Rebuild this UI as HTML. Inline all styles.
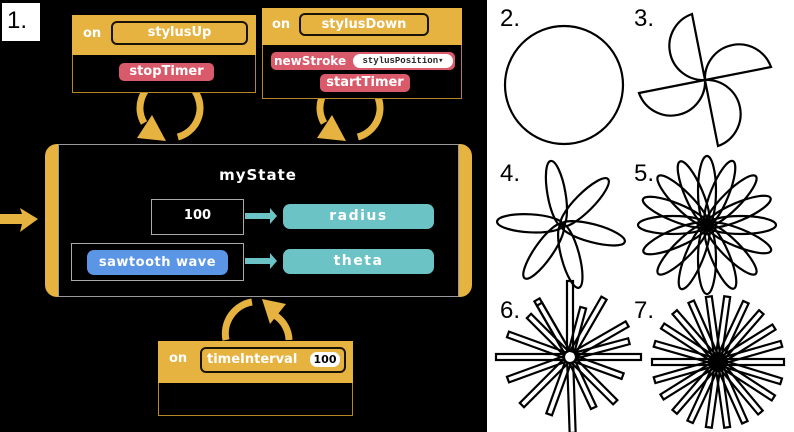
<!DOCTYPE html>
<html><head><meta charset="utf-8"><style>
body{margin:0;width:794px;height:432px;background:#fff;position:relative;overflow:hidden;font-family:"DejaVu Sans","Liberation Sans",sans-serif}
.a{position:absolute;box-sizing:border-box}
.hdr{background:#e6b240}
.pill{border:2px solid #1a1408;border-radius:6px;color:#fff;font-weight:bold;text-align:center;font-size:13px}
.red{background:#d95a6a;border-radius:5px;color:#fff;font-weight:bold;text-align:center;font-size:13px}
.teal{background:#6cc3c6;border-radius:7px;color:#fff;font-weight:bold;text-align:center;font-size:14px;letter-spacing:1.5px}
.w{color:#fff;font-weight:bold}
</style></head><body>
<div class="a" style="left:0;top:0;width:487px;height:432px;background:#000"></div>
<svg class="a" style="left:0;top:0" width="487" height="432">
<g fill="none" stroke="#e6b240" stroke-width="7">
<path d="M177.8,137 A30,30 0 1 0 144,123"/>
<path d="M357.8,137 A30,30 0 1 0 324,123"/>
<path d="M226,340 A32,32 0 0 1 252,302"/>
<path d="M289,340 A30,30 0 0 0 276,316"/>
</g>
<g fill="#e6b240">
<polygon points="137,138 166,141 152,115"/>
<polygon points="317,138 346,141 332,115"/>
<polygon points="262,299 286,304 270,324"/>
<polygon points="0,214 22,214 20,208 38,219 20,232 22,224 0,224"/>
</g>
</svg>
<div class="a" style="left:2px;top:3px;width:38px;height:38px;background:#fff;font:24px 'Liberation Sans',sans-serif;padding:4px 0 0 5px">1.</div>

<!-- stylusUp -->
<div class="a hdr" style="left:72px;top:15px;width:184px;height:40px"></div>
<div class="a" style="left:72px;top:55px;width:184px;height:38px;border:1px solid #b8872a;border-top:none;background:#000"></div>
<div class="a w" style="left:83px;top:26px;font-size:13px">on</div>
<div class="a pill" style="left:111px;top:21px;width:137px;height:24px;line-height:20px">stylusUp</div>
<div class="a red" style="left:119px;top:63px;width:95px;height:18px;line-height:18px">stopTimer</div>

<!-- stylusDown -->
<div class="a hdr" style="left:262px;top:8px;width:200px;height:37px"></div>
<div class="a" style="left:262px;top:45px;width:200px;height:54px;border:1px solid #b8872a;border-top:none;background:#000"></div>
<div class="a w" style="left:272px;top:17px;font-size:13px">on</div>
<div class="a pill" style="left:299px;top:13px;width:130px;height:23px;line-height:19px">stylusDown</div>
<div class="a red" style="left:271px;top:52px;width:184px;height:18px;line-height:18px;text-align:left;padding-left:3px;font-size:12px">newStroke</div>
<div class="a" style="left:353px;top:54px;width:100px;height:14px;background:#fff;border-radius:7px;font:bold 9px 'Liberation Mono',monospace;line-height:14px;text-align:center;color:#222">stylusPosition▾</div>
<div class="a red" style="left:320px;top:74px;width:90px;height:18px;line-height:18px">startTimer</div>

<!-- main state -->
<div class="a" style="left:45px;top:144px;width:427px;height:153px;background:#e6b240;border-radius:12px"></div>
<div class="a" style="left:58px;top:144px;width:401px;height:153px;background:#000;border:1px solid #999"></div>
<div class="a w" style="left:58px;top:166px;width:400px;text-align:center;font-size:15px;letter-spacing:1px">myState</div>
<div class="a w" style="left:151px;top:199px;width:93px;height:36px;border:1px solid #aaa;text-align:center;line-height:32px;font-size:13px">100</div>
<div class="a teal" style="left:283px;top:204px;width:151px;height:25px;line-height:25px">radius</div>
<div class="a" style="left:71px;top:243px;width:173px;height:38px;border:1px solid #aaa"></div>
<div class="a" style="left:87px;top:250px;width:141px;height:25px;background:#5b95e6;border-radius:7px;color:#fff;font-weight:bold;font-size:13px;line-height:25px;text-align:center;letter-spacing:0.5px">sawtooth wave</div>
<div class="a teal" style="left:283px;top:249px;width:151px;height:25px;line-height:25px">theta</div>
<svg class="a" style="left:240px;top:200px" width="45" height="80">
<g fill="#6cc3c6" transform="translate(-240,-200)"><polygon points="245,213 270,213 270,208 277,216 270,224 270,219 245,219"/><polygon points="245,258 270,258 270,253 277,261 270,269 270,264 245,264"/></g>
</svg>

<!-- timeInterval -->
<div class="a hdr" style="left:158px;top:341px;width:195px;height:42px"></div>
<div class="a" style="left:158px;top:383px;width:195px;height:33px;border:1px solid #b8872a;border-top:none"></div>
<div class="a w" style="left:169px;top:351px;font-size:13px">on</div>
<div class="a pill" style="left:200px;top:347px;width:146px;height:26px;line-height:22px;text-align:left;padding-left:5px">timeInterval</div>
<div class="a" style="left:310px;top:352px;width:30px;height:15px;background:#fff;border-radius:7px;font-size:11px;font-weight:bold;line-height:15px;text-align:center">100</div>

<svg class="a" style="left:487px;top:0" width="307" height="432">
<g transform="translate(-487,0)">
<g font-family="Liberation Sans,sans-serif" font-size="24" fill="#000">
<text x="500" y="26">2.</text><text x="634" y="26">3.</text>
<text x="500" y="181">4.</text><text x="634" y="181">5.</text>
<text x="500" y="318">6.</text><text x="634" y="318">7.</text>
</g>
<g fill="none" stroke="#000" stroke-width="2.2">
<circle cx="564" cy="85" r="59"/>
<g transform="translate(705,80)">
<path d="M0,0 L-13,-66 A34,34 0 0 0 0,0"/>
<path d="M0,0 L66,-13 A34,34 0 0 0 0,0"/>
<path d="M0,0 L13,66 A34,34 0 0 0 0,0"/>
<path d="M0,0 L-66,13 A34,34 0 0 0 0,0"/>
</g>
<g transform="translate(562,225)">
<ellipse cx="32" cy="0" rx="33" ry="9" transform="rotate(-100)"/>
<ellipse cx="32" cy="0" rx="33" ry="9" transform="rotate(-45)"/>
<ellipse cx="32" cy="0" rx="33" ry="9" transform="rotate(15)"/>
<ellipse cx="32" cy="0" rx="33" ry="9" transform="rotate(75)"/>
<ellipse cx="32" cy="0" rx="33" ry="9" transform="rotate(125)"/>
<ellipse cx="32" cy="0" rx="33" ry="9" transform="rotate(183)"/>
</g>
<g transform="translate(707,225)">
<ellipse cx="34" rx="35" ry="9" transform="rotate(0)"/><ellipse cx="34" rx="35" ry="9" transform="rotate(22)"/>
<ellipse cx="34" rx="35" ry="9" transform="rotate(45)"/><ellipse cx="34" rx="35" ry="9" transform="rotate(67)"/>
<ellipse cx="34" rx="35" ry="9" transform="rotate(90)"/><ellipse cx="34" rx="35" ry="9" transform="rotate(112)"/>
<ellipse cx="34" rx="35" ry="9" transform="rotate(135)"/><ellipse cx="34" rx="35" ry="9" transform="rotate(157)"/>
<ellipse cx="34" rx="35" ry="9" transform="rotate(180)"/><ellipse cx="34" rx="35" ry="9" transform="rotate(202)"/>
<ellipse cx="34" rx="35" ry="9" transform="rotate(225)"/><ellipse cx="34" rx="35" ry="9" transform="rotate(247)"/>
<ellipse cx="34" rx="35" ry="9" transform="rotate(270)"/><ellipse cx="34" rx="35" ry="9" transform="rotate(292)"/>
<ellipse cx="34" rx="35" ry="9" transform="rotate(315)"/><ellipse cx="34" rx="35" ry="9" transform="rotate(337)"/>
</g>
<g transform="translate(570,357)">
<rect x="6" y="-3" width="70" height="6" transform="rotate(-90)"/><rect x="6" y="-3" width="55" height="6" transform="rotate(-120)"/>
<rect x="6" y="-3" width="62" height="6" transform="rotate(-60)"/><rect x="6" y="-3" width="45" height="6" transform="rotate(-75)"/>
<rect x="6" y="-3" width="60" height="6" transform="rotate(-30)"/><rect x="6" y="-3" width="55" height="6" transform="rotate(-15)"/>
<rect x="6" y="-3" width="65" height="6" transform="rotate(0)"/><rect x="6" y="-3" width="50" height="6" transform="rotate(20)"/>
<rect x="6" y="-3" width="58" height="6" transform="rotate(45)"/><rect x="6" y="-3" width="50" height="6" transform="rotate(65)"/>
<rect x="6" y="-3" width="70" height="6" transform="rotate(88)"/><rect x="6" y="-3" width="55" height="6" transform="rotate(110)"/>
<rect x="6" y="-3" width="62" height="6" transform="rotate(135)"/><rect x="6" y="-3" width="60" height="6" transform="rotate(160)"/>
<rect x="6" y="-3" width="68" height="6" transform="rotate(180)"/><rect x="6" y="-3" width="60" height="6" transform="rotate(200)"/>
<rect x="6" y="-3" width="52" height="6" transform="rotate(225)"/><rect x="6" y="-3" width="60" height="6" transform="rotate(240)"/>
</g>
<g transform="translate(718,362)">
<rect y="-3" width="66" height="6" transform="rotate(0)"/><rect y="-3" width="66" height="6" transform="rotate(17)"/>
<rect y="-3" width="66" height="6" transform="rotate(33)"/><rect y="-3" width="66" height="6" transform="rotate(50)"/>
<rect y="-3" width="66" height="6" transform="rotate(66)"/><rect y="-3" width="66" height="6" transform="rotate(82)"/>
<rect y="-3" width="66" height="6" transform="rotate(98)"/><rect y="-3" width="66" height="6" transform="rotate(115)"/>
<rect y="-3" width="66" height="6" transform="rotate(131)"/><rect y="-3" width="66" height="6" transform="rotate(148)"/>
<rect y="-3" width="66" height="6" transform="rotate(164)"/><rect y="-3" width="66" height="6" transform="rotate(180)"/>
<rect y="-3" width="66" height="6" transform="rotate(196)"/><rect y="-3" width="66" height="6" transform="rotate(213)"/>
<rect y="-3" width="66" height="6" transform="rotate(229)"/><rect y="-3" width="66" height="6" transform="rotate(246)"/>
<rect y="-3" width="66" height="6" transform="rotate(262)"/><rect y="-3" width="66" height="6" transform="rotate(278)"/>
<rect y="-3" width="66" height="6" transform="rotate(295)"/><rect y="-3" width="66" height="6" transform="rotate(311)"/>
<rect y="-3" width="66" height="6" transform="rotate(328)"/><rect y="-3" width="66" height="6" transform="rotate(344)"/>
</g>
</g>
</g>
</svg>
</body></html>
